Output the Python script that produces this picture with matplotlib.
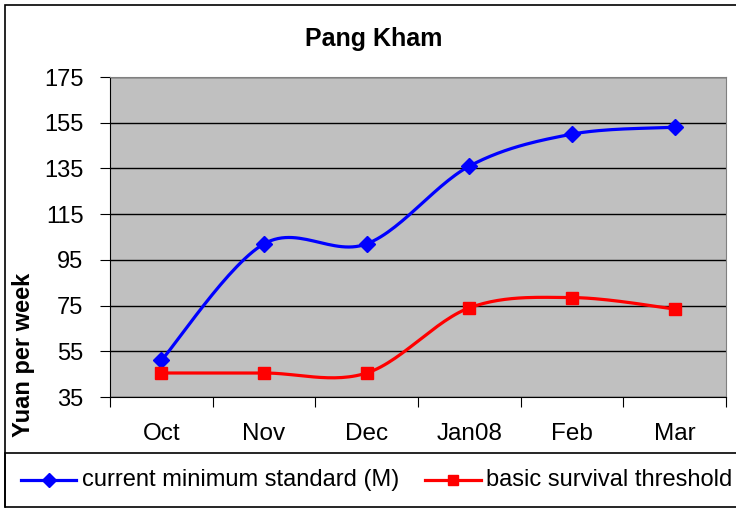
import numpy as np
import matplotlib
matplotlib.use("Agg")
import matplotlib.pyplot as plt
from matplotlib.lines import Line2D
from matplotlib.patches import Rectangle

plt.rcParams['font.family'] = ['Liberation Sans', 'DejaVu Sans']

months = ['Oct', 'Nov', 'Dec', 'Jan08', 'Feb', 'Mar']
current_min = [51, 102, 102, 136, 150, 153]
survival = [45.5, 45.5, 45.5, 74, 78.5, 73.5]
y_ticks = [35, 55, 75, 95, 115, 135, 155, 175]

W, H = 736, 508


def smooth(xs, ys, n=30):
    # Excel-style smoothed line: cubic Bezier with neighbour-based control points
    p = np.column_stack([xs, ys]).astype(float)
    pts = [p[0]] + list(p) + [p[-1]]
    out = []
    t = np.linspace(0, 1, n)[:, None]
    for i in range(1, len(pts) - 2):
        p0, p1, p2, p3 = pts[i - 1], pts[i], pts[i + 1], pts[i + 2]
        c1 = p1 + (p2 - p0) / 6
        c2 = p2 - (p3 - p1) / 6
        seg = ((1 - t) ** 3) * p1 + 3 * ((1 - t) ** 2) * t * c1 + 3 * (1 - t) * t ** 2 * c2 + t ** 3 * p2
        out.append(seg if i == 1 else seg[1:])
    s = np.vstack(out)
    return s[:, 0], s[:, 1]


def fx(px):
    return px / W


def fy(py):
    return 1 - py / H


fig = plt.figure(figsize=(W / 100, H / 100), dpi=100)
fig.patch.set_facecolor('white')

# outer chart border and legend box
fig.add_artist(Rectangle((fx(5), fy(510)), fx(740) - fx(5), fy(5) - fy(510),
                         transform=fig.transFigure, fill=False, edgecolor='black', lw=1.2))
fig.add_artist(Rectangle((fx(5), fy(507)), fx(740) - fx(5), fy(453) - fy(507),
                         transform=fig.transFigure, fill=False, edgecolor='black', lw=1.2))

ax = fig.add_axes([fx(110), fy(397), fx(726) - fx(110), fy(77) - fy(397)])
ax.set_facecolor('#C0C0C0')

x = np.arange(len(months))
bx, by = smooth(x, current_min)
rx, ry = smooth(x, survival)
ax.plot(bx, by, color='#0000FF', lw=2.3, solid_capstyle='round', zorder=3)
ax.plot(x, current_min, ls='none', marker='D', ms=8.5, color='#0000FF', zorder=4)
ax.plot(rx, ry, color='#FF0000', lw=2.3, solid_capstyle='round', zorder=3)
ax.plot(x, survival, ls='none', marker='s', ms=8, color='#FF0000', zorder=4)

ax.set_xlim(-0.5, len(months) - 0.5)
ax.set_ylim(35, 175)
ax.set_yticks(y_ticks)
ax.yaxis.grid(True, color='black', lw=1)
ax.set_axisbelow(True)

ax.set_xticks(np.arange(len(months) + 1) - 0.5)
ax.set_xticklabels([])
ax.set_xticks(x, minor=True)
ax.set_xticklabels(months, minor=True)
ax.tick_params(axis='x', which='major', direction='out', length=7, color='black')
ax.tick_params(axis='x', which='minor', length=0, pad=19, labelsize=17.5)
ax.tick_params(axis='y', direction='out', length=7, pad=12, labelsize=17, color='black')

for side in ['top', 'right']:
    ax.spines[side].set_color('#808080')
for side in ['left', 'bottom']:
    ax.spines[side].set_color('black')

fig.text(fx(374), fy(39), 'Pang Kham', ha='center', va='center', fontsize=18, fontweight='bold')
fig.text(fx(24), fy(355), 'Yuan per week', ha='center', va='center', rotation=90,
         fontsize=17, fontweight='bold')

# legend entries
ly = fy(480)
fig.add_artist(Line2D([fx(21), fx(76)], [ly, ly], transform=fig.transFigure, color='#0000FF', lw=2.3))
fig.add_artist(Line2D([fx(48.5)], [ly], transform=fig.transFigure, color='#0000FF', marker='D', ms=7.5))
fig.text(fx(82), ly, 'current minimum standard (M)', ha='left', va='center', fontsize=17)
fig.add_artist(Line2D([fx(425), fx(481)], [ly, ly], transform=fig.transFigure, color='#FF0000', lw=2.3))
fig.add_artist(Line2D([fx(453)], [ly], transform=fig.transFigure, color='#FF0000', marker='s', ms=7))
fig.text(fx(486), ly, 'basic survival threshold', ha='left', va='center', fontsize=17)

fig.savefig('out.png', dpi=100)
